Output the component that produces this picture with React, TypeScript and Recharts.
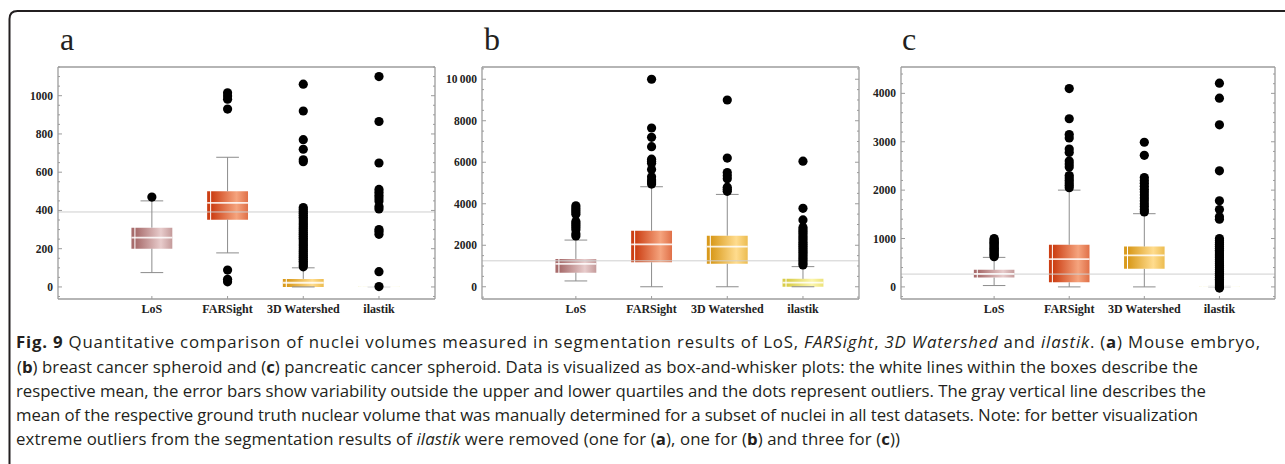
import React from 'react';
import { ComposedChart, XAxis, YAxis, Scatter, ReferenceArea, ReferenceLine } from 'recharts';

// ---------- shared categories ----------
const categories = ['LoS', 'FARSight', '3D Watershed', 'ilastik'];
const categoryX = [1, 2, 3, 4];
const xDomain: [number, number] = [-0.24, 4.74];

// ---------- (a) Mouse embryo ----------
const aLowerWhisker = [75, 178, 0, 0];
const aQ1 = [200, 352, 0, 0];
const aMean = [258, 440, 22, 1];
const aQ3 = [310, 500, 42, 2];
const aUpperWhisker = [450, 678, 100, 2];
const aOutliersLoS = [470];
const aOutliersFARSight = [1015, 998, 982, 930, 88, 40, 27];
const aOutliersWatershed = [1060, 920, 770, 720, 665, 655, 415, 405, 395, 385, 375, 365, 355, 345, 335, 325, 315, 305, 295, 285, 275, 265, 255, 245, 235, 225, 215, 205, 195, 185, 175, 165, 155, 145, 135, 125, 115, 105];
const aOutliersIlastik = [1100, 865, 648, 510, 495, 480, 465, 450, 420, 408, 300, 290, 275, 80, 2];
const aGroundTruth = 392;
const aTicks = [0, 200, 400, 600, 800, 1000];
const aTickLabels = ['0', '200', '400', '600', '800', '1000'];

// ---------- (b) Breast cancer spheroid ----------
const bLowerWhisker = [280, 0, 0, 0];
const bQ1 = [680, 1180, 1110, 0];
const bMean = [1100, 2040, 1930, 200];
const bQ3 = [1340, 2700, 2460, 380];
const bUpperWhisker = [2250, 4820, 4450, 970];
const bOutliersLoS = [3900, 3800, 3700, 3600, 3500, 3150, 3050, 2950, 2850, 2750, 2550, 2450];
const bOutliersFARSight = [10000, 7650, 7200, 6750, 6150, 6050, 5950, 5650, 5300, 5150, 5050, 4950];
const bOutliersWatershed = [9000, 6200, 5500, 5350, 5200, 4800, 4700, 4600];
const bOutliersIlastik = [6050, 3780, 3220, 2850, 2750, 2650, 2550, 2450, 2350, 2250, 2150, 2050, 1950, 1850, 1750, 1650, 1550, 1450, 1350, 1250, 1150, 1050];
const bGroundTruth = 1250;
const bTicks = [0, 2000, 4000, 6000, 8000, 10000];
const bTickLabels = ['0', '2000', '4000', '6000', '8000', '10\u2009000'];

// ---------- (c) Pancreatic cancer spheroid ----------
const cLowerWhisker = [28, 0, 0, 0];
const cQ1 = [193, 95, 373, 0];
const cMean = [270, 575, 650, 5];
const cQ3 = [352, 870, 835, 10];
const cUpperWhisker = [610, 2000, 1513, 10];
const cOutliersLoS = [1000, 975, 950, 925, 900, 875, 850, 825, 800, 775, 750, 725, 700, 675, 650, 625];
const cOutliersFARSight = [4100, 3475, 3150, 3080, 2850, 2780, 2600, 2540, 2480, 2300, 2250, 2200, 2150, 2100, 2050];
const cOutliersWatershed = [2990, 2720, 2260, 2200, 2140, 2080, 2020, 1960, 1900, 1840, 1780, 1720, 1660, 1600, 1550];
const cOutliersIlastik = [4210, 3900, 3350, 2400, 1780, 1600, 1450, 1400, 1000, 960, 920, 880, 840, 800, 760, 720, 680, 640, 600, 560, 520, 480, 440, 400, 360, 320, 280, 240, 200, 160, 120, 80, 40, 0, -25];
const cGroundTruth = 265;
const cTicks = [0, 1000, 2000, 3000, 4000];
const cTickLabels = ['0', '1000', '2000', '3000', '4000'];

// ---------- styles ----------
const boxDark = ['#a86c6c', '#cc3f14', '#d99a1c', '#d8cc48'];
const boxLight = ['#e8cccc', '#f5a47e', '#ffdc8e', '#fcf6ac'];
const boxEdge = ['#c49a9a', '#e07048', '#ecbc50', '#ece27a'];
const FRAME = '#9c9c9c';
const SERIF = '"Liberation Serif", "Times New Roman", serif';
const CHART_H = 320;
const PLOT_TOP = 67;
const BOX_HALF = 0.27;
const CAP_HALF = 0.15;

type PanelDef = {
  id: string;
  letter: string;
  left: number;
  width: number;
  yAxisWidth: number;
  marginLeft: number;
  marginRight: number;
  domain: [number, number];
  minorStep: number;
  ticks: number[];
  tickLabels: string[];
  low: number[];
  q1: number[];
  mean: number[];
  q3: number[];
  high: number[];
  outliers: number[][];
  truth: number;
};

const panels: PanelDef[] = [
  {
    id: 'a', letter: 'a', left: 0, width: 440, yAxisWidth: 50, marginLeft: 8, marginRight: 4,
    domain: [-63, 1150], minorStep: 50, ticks: aTicks, tickLabels: aTickLabels,
    low: aLowerWhisker, q1: aQ1, mean: aMean, q3: aQ3, high: aUpperWhisker,
    outliers: [aOutliersLoS, aOutliersFARSight, aOutliersWatershed, aOutliersIlastik], truth: aGroundTruth,
  },
  {
    id: 'b', letter: 'b', left: 430, width: 440, yAxisWidth: 45, marginLeft: 7, marginRight: 10,
    domain: [-590, 10590], minorStep: 500, ticks: bTicks, tickLabels: bTickLabels,
    low: bLowerWhisker, q1: bQ1, mean: bMean, q3: bQ3, high: bUpperWhisker,
    outliers: [bOutliersLoS, bOutliersFARSight, bOutliersWatershed, bOutliersIlastik], truth: bGroundTruth,
  },
  {
    id: 'c', letter: 'c', left: 855, width: 430, yAxisWidth: 40, marginLeft: 6, marginRight: 9,
    domain: [-250, 4545], minorStep: 200, ticks: cTicks, tickLabels: cTickLabels,
    low: cLowerWhisker, q1: cQ1, mean: cMean, q3: cQ3, high: cUpperWhisker,
    outliers: [cOutliersLoS, cOutliersFARSight, cOutliersWatershed, cOutliersIlastik], truth: cGroundTruth,
  },
];

const letterX = [60, 484, 902];

type Seg = [string, string];
const captionLines: Seg[][] = [
  [['Fig. 9', 'b'], [' Quantitative comparison of nuclei volumes measured in segmentation results of LoS, ', ''], ['FARSight', 'i'], [', ', ''], ['3D Watershed', 'i'], [' and ', ''], ['ilastik', 'i'], ['. (', ''], ['a', 'b'], [') Mouse embryo,', '']],
  [['(', ''], ['b', 'b'], [') breast cancer spheroid and (', ''], ['c', 'b'], [') pancreatic cancer spheroid. Data is visualized as box-and-whisker plots: the white lines within the boxes describe the', '']],
  [['respective mean, the error bars show variability outside the upper and lower quartiles and the dots represent outliers. The gray vertical line describes the', '']],
  [['mean of the respective ground truth nuclear volume that was manually determined for a subset of nuclei in all test datasets. Note: for better visualization', '']],
  [['extreme outliers from the segmentation results of ', ''], ['ilastik', 'i'], [' were removed (one for (', ''], ['a', 'b'], ['), one for (', ''], ['b', 'b'], [') and three for (', ''], ['c', 'b'], ['))', '']],
];
const captionX = [16, 17, 16, 16, 16];
const captionEnd = [1260, 1198, 1206, 1198, 900];
const captionBaseline = [348, 372.5, 396.5, 421, 445];

function Panel({ p }: { p: PanelDef }) {
  const points = p.outliers.flatMap((vals, i) => vals.map((v) => ({ x: categoryX[i], y: v })));
  const minor: number[] = [];
  for (let t = Math.ceil(p.domain[0] / p.minorStep) * p.minorStep; t <= p.domain[1]; t += p.minorStep) minor.push(t);

  const leftTick = (props: any) => {
    const { x, y, payload } = props;
    const idx = p.ticks.indexOf(payload.value);
    const major = idx >= 0;
    return (
      <g>
        <line x1={x} x2={x + (major ? 4 : 2)} y1={y} y2={y} stroke={FRAME} strokeWidth={1} />
        {major && (
          <text x={x - 5} y={y} textAnchor="end" dominantBaseline="central" fontFamily={SERIF} fontWeight="bold" fontSize={11.5} fill="#222">
            {p.tickLabels[idx]}
          </text>
        )}
      </g>
    );
  };
  const rightTick = (props: any) => {
    const { x, y, payload } = props;
    const major = p.ticks.indexOf(payload.value) >= 0;
    return <line x1={x - (major ? 4 : 2)} x2={x} y1={y} y2={y} stroke={FRAME} strokeWidth={1} />;
  };
  const bottomTick = (props: any) => {
    const { x, y, payload } = props;
    const idx = categoryX.indexOf(payload.value);
    return (
      <g>
        <line x1={x} x2={x} y1={y - 3} y2={y} stroke={FRAME} strokeWidth={1} />
        <text x={x} y={y + 10} textAnchor="middle" dominantBaseline="central" fontFamily={SERIF} fontWeight="bold" fontSize={12} fill="#222">
          {categories[idx]}
        </text>
      </g>
    );
  };
  const topTick = (props: any) => {
    const { x, y } = props;
    return <line x1={x} x2={x} y1={y} y2={y + 3} stroke={FRAME} strokeWidth={1} />;
  };
  const dot = (props: any) => <circle cx={props.cx} cy={props.cy} r={4.6} fill="#000" />;

  return (
    <div style={{ position: 'absolute', left: p.left, top: 0 }}>
      <ComposedChart
        width={p.width}
        height={CHART_H}
        margin={{ top: PLOT_TOP - 1, right: p.marginRight, bottom: 0, left: p.marginLeft }}
      >
        <defs>
          {categories.map((c, i) => (
            <linearGradient key={c} id={`grad-${p.id}-${i}`} x1="0" y1="0" x2="1" y2="0">
              <stop offset="0" stopColor={boxDark[i]} />
              <stop offset="0.06" stopColor={boxDark[i]} />
              <stop offset="0.085" stopColor="#ffffff" />
              <stop offset="0.11" stopColor={boxDark[i]} />
              <stop offset="0.72" stopColor={boxLight[i]} />
              <stop offset="1" stopColor={boxEdge[i]} />
            </linearGradient>
          ))}
        </defs>
        <XAxis
          type="number" dataKey="x" domain={xDomain} allowDataOverflow ticks={categoryX} interval={0}
          height={21} tickSize={0} tickMargin={0} tickLine={false}
          axisLine={{ stroke: FRAME, strokeWidth: 1.3 }} tick={bottomTick}
        />
        <XAxis
          xAxisId="top" orientation="top" type="number" domain={xDomain} allowDataOverflow ticks={categoryX} interval={0}
          height={1} tickSize={0} tickMargin={0} tickLine={false}
          axisLine={{ stroke: FRAME, strokeWidth: 1.3 }} tick={topTick}
        />
        <YAxis
          type="number" dataKey="y" domain={p.domain} allowDataOverflow ticks={minor} interval={0}
          width={p.yAxisWidth} tickSize={0} tickMargin={0} tickLine={false}
          axisLine={{ stroke: FRAME, strokeWidth: 1.3 }} tick={leftTick}
        />
        <YAxis
          yAxisId="right" orientation="right" type="number" domain={p.domain} allowDataOverflow ticks={minor} interval={0}
          width={1} tickSize={0} tickMargin={0} tickLine={false}
          axisLine={{ stroke: FRAME, strokeWidth: 1.3 }} tick={rightTick}
        />
        <ReferenceLine y={p.truth} stroke="#cfcfcf" strokeWidth={1} />
        {categories.map((c, i) => (
          <ReferenceLine key={`wl-${c}`} segment={[{ x: categoryX[i], y: p.low[i] }, { x: categoryX[i], y: p.q1[i] }]} stroke="#8c8c8c" strokeWidth={1} />
        ))}
        {categories.map((c, i) => (
          <ReferenceLine key={`wh-${c}`} segment={[{ x: categoryX[i], y: p.q3[i] }, { x: categoryX[i], y: p.high[i] }]} stroke="#8c8c8c" strokeWidth={1} />
        ))}
        {categories.map((c, i) => (
          <ReferenceLine key={`cl-${c}`} segment={[{ x: categoryX[i] - CAP_HALF, y: p.low[i] }, { x: categoryX[i] + CAP_HALF, y: p.low[i] }]} stroke="#8c8c8c" strokeWidth={1} />
        ))}
        {categories.map((c, i) => (
          <ReferenceLine key={`ch-${c}`} segment={[{ x: categoryX[i] - CAP_HALF, y: p.high[i] }, { x: categoryX[i] + CAP_HALF, y: p.high[i] }]} stroke="#8c8c8c" strokeWidth={1} />
        ))}
        {categories.map((c, i) => (
          <ReferenceArea
            key={`box-${c}`}
            x1={categoryX[i] - BOX_HALF} x2={categoryX[i] + BOX_HALF} y1={p.q1[i]} y2={p.q3[i]}
            fill={`url(#grad-${p.id}-${i})`} fillOpacity={1} stroke="none"
          />
        ))}
        {categories.map((c, i) => (
          <ReferenceLine key={`m-${c}`} segment={[{ x: categoryX[i] - BOX_HALF, y: p.mean[i] }, { x: categoryX[i] + BOX_HALF, y: p.mean[i] }]} stroke="#ffffff" strokeOpacity={0.85} strokeWidth={1.8} />
        ))}
        <Scatter data={points} isAnimationActive={false} shape={dot} />
      </ComposedChart>
    </div>
  );
}

export default function App() {
  return (
    <div style={{ position: 'absolute', left: 0, top: 0, width: 1285, height: 464, background: '#fff', overflow: 'hidden' }}>
      <svg width={1285} height={464} style={{ position: 'absolute', left: 0, top: 0 }}>
        <path d="M 9.5 470 L 9.5 19 Q 9.5 11 17.5 11 L 1290 11" fill="none" stroke="#231f20" strokeWidth={2} />
        {panels.map((p, i) => (
          <text key={p.id} x={letterX[i]} y={50} fontFamily={SERIF} fontSize={32} fill="#231f20">{p.letter}</text>
        ))}
        {captionLines.map((line, li) => (
          <text
            key={li}
            x={captionX[li]}
            y={captionBaseline[li]}
            textLength={captionEnd[li] - captionX[li]}
            lengthAdjust="spacing"
            fontFamily='"Open Sans", "Noto Sans", sans-serif'
            fontSize={16.8}
            fill="#231f20"
            style={{ whiteSpace: 'pre' }}
          >
            {line.map((s, si) => (
              <tspan key={si} fontWeight={s[1] === 'b' ? 'bold' : 'normal'} fontStyle={s[1] === 'i' ? 'italic' : 'normal'}>{s[0]}</tspan>
            ))}
          </text>
        ))}
      </svg>
      {panels.map((p) => (
        <Panel key={p.id} p={p} />
      ))}
    </div>
  );
}
